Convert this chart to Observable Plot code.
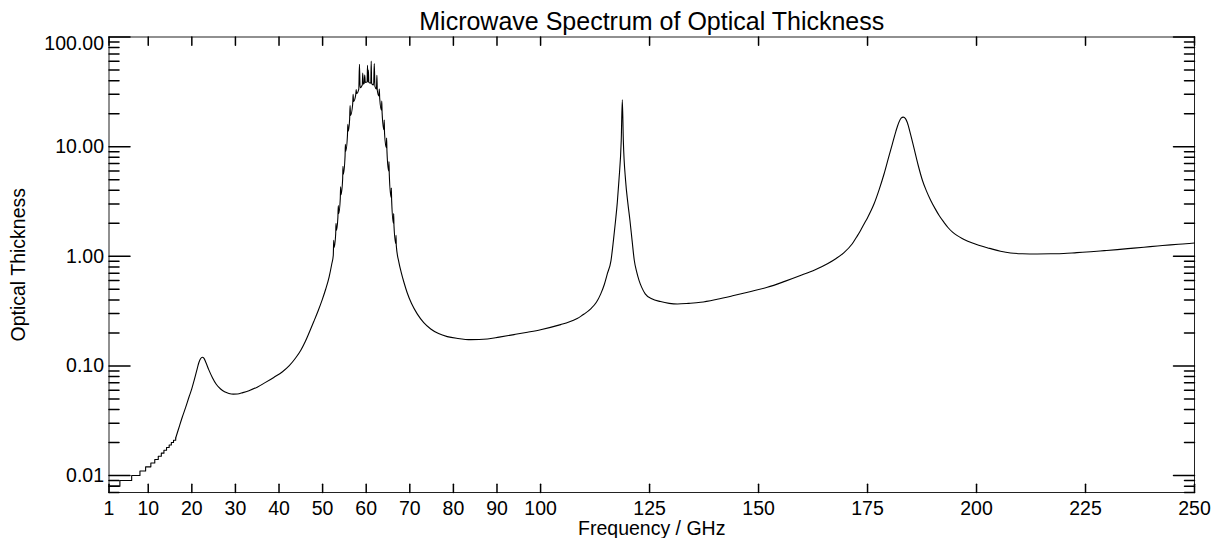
<!DOCTYPE html>
<html><head><meta charset="utf-8">
<script src="https://cdn.jsdelivr.net/npm/d3@7"></script>
<script src="https://cdn.jsdelivr.net/npm/@observablehq/plot@0.6"></script>
<style>
html,body{margin:0;padding:0;background:#fff;}
#chart svg{display:block;}
</style></head><body><div id="chart"></div>
<script>
const title = "Microwave Spectrum of Optical Thickness";
const xLabel = "Frequency / GHz";
const yLabel = "Optical Thickness";
const xTicks = [1,10,20,30,40,50,60,70,80,90,100,125,150,175,200,225,250];
const yMajorTicks = [0.01,0.1,1,10,100];
const yLabelTicks = [0.01,0.1,1,10];
const yTopTick = [100];
const yMinorTicks = [0.007,0.008,0.009,
  0.02,0.03,0.04,0.05,0.06,0.07,0.08,0.09,
  0.2,0.3,0.4,0.5,0.6,0.7,0.8,0.9,
  2,3,4,5,6,7,8,9,
  20,30,40,50,60,70,80,90];

// low-frequency part, values quantised to 0.001 (stair steps)
const stairFreq = [1,3.5,6.2,8.1,9.4,10.6,11.5,12.3,13.0,13.6,14.2,14.8,15.3,15.8,16.3];
const stairTau  = [0.008,0.009,0.010,0.011,0.012,0.013,0.014,0.015,0.016,0.017,0.018,0.019,0.020,0.021,0.022];

// main spectrum
const freq = [16.3,17.0,17.8,18.6,19.35,20.0,20.5,21.1,21.64,22.0,22.4,22.8,23.2,23.9,24.7,25.6,26.6,27.5,28.5,29.5,30.45,31.7,33.1,35.0,36.9,38.8,40.8,
  42.3,43.8,45.0,46.0,47.0,48.0,49.0,49.9,50.7,51.5,52.1,
  52.45,52.54,52.63, 53.0,53.07,53.16, 53.5,53.6,53.7, 54.05,54.13,54.22, 54.6,54.67,54.76,
  55.15,55.22,55.31, 55.7,55.78,55.87, 56.2,56.3,56.4, 56.9,57.0,57.1, 57.6,57.7,57.8,
  58.3,58.45,58.6, 59.1,59.2,59.35, 59.55,59.65,59.8, 60.2,60.3,60.4,60.5,60.6,
  61.05,61.15,61.25, 61.7,61.85,62.0, 62.35,62.45,62.55, 62.9,63.0,63.1,
  63.5,63.57,63.65, 64.05,64.13,64.21, 64.6,64.68,64.76, 65.15,65.22,65.3,
  65.7,65.76,65.84, 66.25,66.3,66.37, 66.8,66.84,66.9,
  67.5,68.0,68.7,69.4,70.4,71.7,73.2,74.8,76.6,78.6,81.0,84.0,87.8,90.5,93.9,97.0,100.0,
  104.6,106.5,108.4,109.2,110.0,111.5,112.8,113.8,114.6,115.3,116.15,116.7,117.2,117.6,117.97,118.5,118.75,118.98,119.5,120.0,120.5,121.0,121.5,122.0,122.6,123.2,124.0,125.5,127.5,129.5,131.4,134.0,136.7,
  140.5,144.3,148.0,152.0,156.0,159.6,163.0,165.8,167.8,169.6,171.5,172.5,173.4,174.2,175.0,176.5,177.7,178.8,179.8,180.7,181.5,182.2,182.7,183.2,183.7,184.1,184.9,185.6,186.6,187.6,
  188.5,189.5,190.5,191.5,192.5,193.5,194.5,195.5,196.7,198.0,200.5,203.0,205.5,207.8,210.5,213.9,217.0,220.0,223.0,226.2,229.3,232.3,235.4,238.4,241.5,244.5,247.3,250];
const tau = [0.022,0.027,0.034,0.042,0.052,0.062,0.073,0.09,0.108,0.116,0.120,0.117,0.108,0.092,0.0785,0.068,0.0615,0.058,0.0561,0.0553,0.0554,0.057,0.0594,0.064,0.0707,0.0785,0.0885,
  0.1,0.118,0.139,0.166,0.205,0.255,0.32,0.40,0.50,0.65,0.85,
  1.02,1.4,1.2, 1.6,2.0,1.72, 2.25,2.9,2.45, 3.35,4.3,3.65, 5.1,6.6,5.6,
  8.2,10.5,9.1, 12.7,16.0,13.8, 17.8,23.7,19.2, 24.5,30.0,25.8, 29.8,33.1,30.5,
  33.5,56.3,34.5, 36.5,46.9,37.2, 37.8,45.0,38.5, 38.8,55.2,38.9,50.0,38.6,
  37.8,60.4,37.5, 36.5,57.2,35.5, 33.5,44.7,32.5, 29.0,33.5,27.5,
  21.5,26.0,20.3, 14.3,17.5,13.2, 9.8,12.0,9.1, 6.0,7.3,5.5,
  3.45,4.2,3.2, 2.0,2.45,1.9, 1.3,1.55,1.25,
  0.88,0.72,0.57,0.465,0.37,0.298,0.248,0.217,0.197,0.185,0.178,0.1735,0.176,0.183,0.193,0.203,0.214,
  0.238,0.251,0.271,0.283,0.297,0.331,0.38,0.454,0.55,0.69,0.914,1.38,2.12,3.1,4.9,11.4,26.8,11.4,4.9,3.1,2.12,1.38,0.914,0.73,0.6,0.52,0.454,0.41,0.386,0.372,0.367,0.372,0.38,
  0.405,0.438,0.475,0.521,0.59,0.667,0.755,0.855,0.955,1.08,1.30,1.5,1.72,1.97,2.25,3.01,4.1,5.66,7.9,10.6,13.8,16.7,18.2,18.6,18.0,16.7,12.8,9.9,6.8,4.91,
  3.95,3.23,2.72,2.33,2.05,1.82,1.66,1.55,1.45,1.37,1.26,1.18,1.11,1.07,1.055,1.05,1.053,1.06,1.08,1.10,1.125,1.15,1.18,1.21,1.24,1.27,1.295,1.32];

const stairs = stairFreq.map((f, i) => ({f, t: stairTau[i]}));
const spectrum = freq.map((f, i) => ({f, t: tau[i]}));

const tickShape = {draw(ctx, l) { ctx.moveTo(0, 0); ctx.lineTo(0, -l); }};
const FONT = "'Liberation Sans', Arial, Helvetica, sans-serif";
const FS = 19.5;
const ink = "#000";

const chart = Plot.plot({
  width: 1228, height: 538,
  marginLeft: 108.5, marginRight: 34, marginTop: 36.5, marginBottom: 46,
  style: {fontFamily: FONT, background: "#fff", color: "#000"},
  x: {domain: [1, 250]},
  y: {type: "log", domain: [0.007, 100]},
  marks: [
    Plot.frame({stroke: "#222"}),
    Plot.vectorX(xTicks, {x: d => d, frameAnchor: "bottom", rotate: 0, length: 8.3, anchor: "start", shape: tickShape, stroke: ink}),
    Plot.vectorX(xTicks, {x: d => d, frameAnchor: "top", rotate: 180, length: 8.3, anchor: "start", shape: tickShape, stroke: ink}),
    Plot.vectorY(yMajorTicks, {y: d => d, frameAnchor: "left", rotate: 90, length: 21, anchor: "start", shape: tickShape, stroke: ink}),
    Plot.vectorY(yMajorTicks, {y: d => d, frameAnchor: "right", rotate: -90, length: 21, anchor: "start", shape: tickShape, stroke: ink}),
    Plot.vectorY(yMinorTicks, {y: d => d, frameAnchor: "left", rotate: 90, length: 10, anchor: "start", shape: tickShape, stroke: ink}),
    Plot.vectorY(yMinorTicks, {y: d => d, frameAnchor: "right", rotate: -90, length: 10, anchor: "start", shape: tickShape, stroke: ink}),
    Plot.axisX({ticks: xTicks, tickSize: 0, tickPadding: 9, tickFormat: d => String(d), fontSize: FS, label: null}),
    Plot.axisY({ticks: yLabelTicks, tickSize: 0, tickPadding: 5, tickFormat: d => d.toFixed(2), fontSize: FS, label: null}),
    Plot.text(yTopTick, {y: d => d, frameAnchor: "left", text: d => d.toFixed(2), textAnchor: "end", lineAnchor: "middle", dx: -5, dy: 7, fontSize: FS}),
    Plot.line(stairs, {x: "f", y: "t", curve: "step-after", stroke: ink, strokeWidth: 1.1}),
    Plot.line(spectrum, {x: "f", y: "t", curve: "monotone-x", stroke: ink, strokeWidth: 1.1}),
    Plot.text([title], {frameAnchor: "top", textAnchor: "middle", lineAnchor: "middle", dy: -15, fontSize: 25}),
    Plot.text([xLabel], {frameAnchor: "bottom", textAnchor: "middle", lineAnchor: "middle", dy: 36.5, fontSize: FS}),
    Plot.text([yLabel], {frameAnchor: "left", textAnchor: "middle", lineAnchor: "middle", dx: -90, rotate: -90, fontSize: FS})
  ]
});
document.getElementById("chart").appendChild(chart);
</script>
</body></html>
